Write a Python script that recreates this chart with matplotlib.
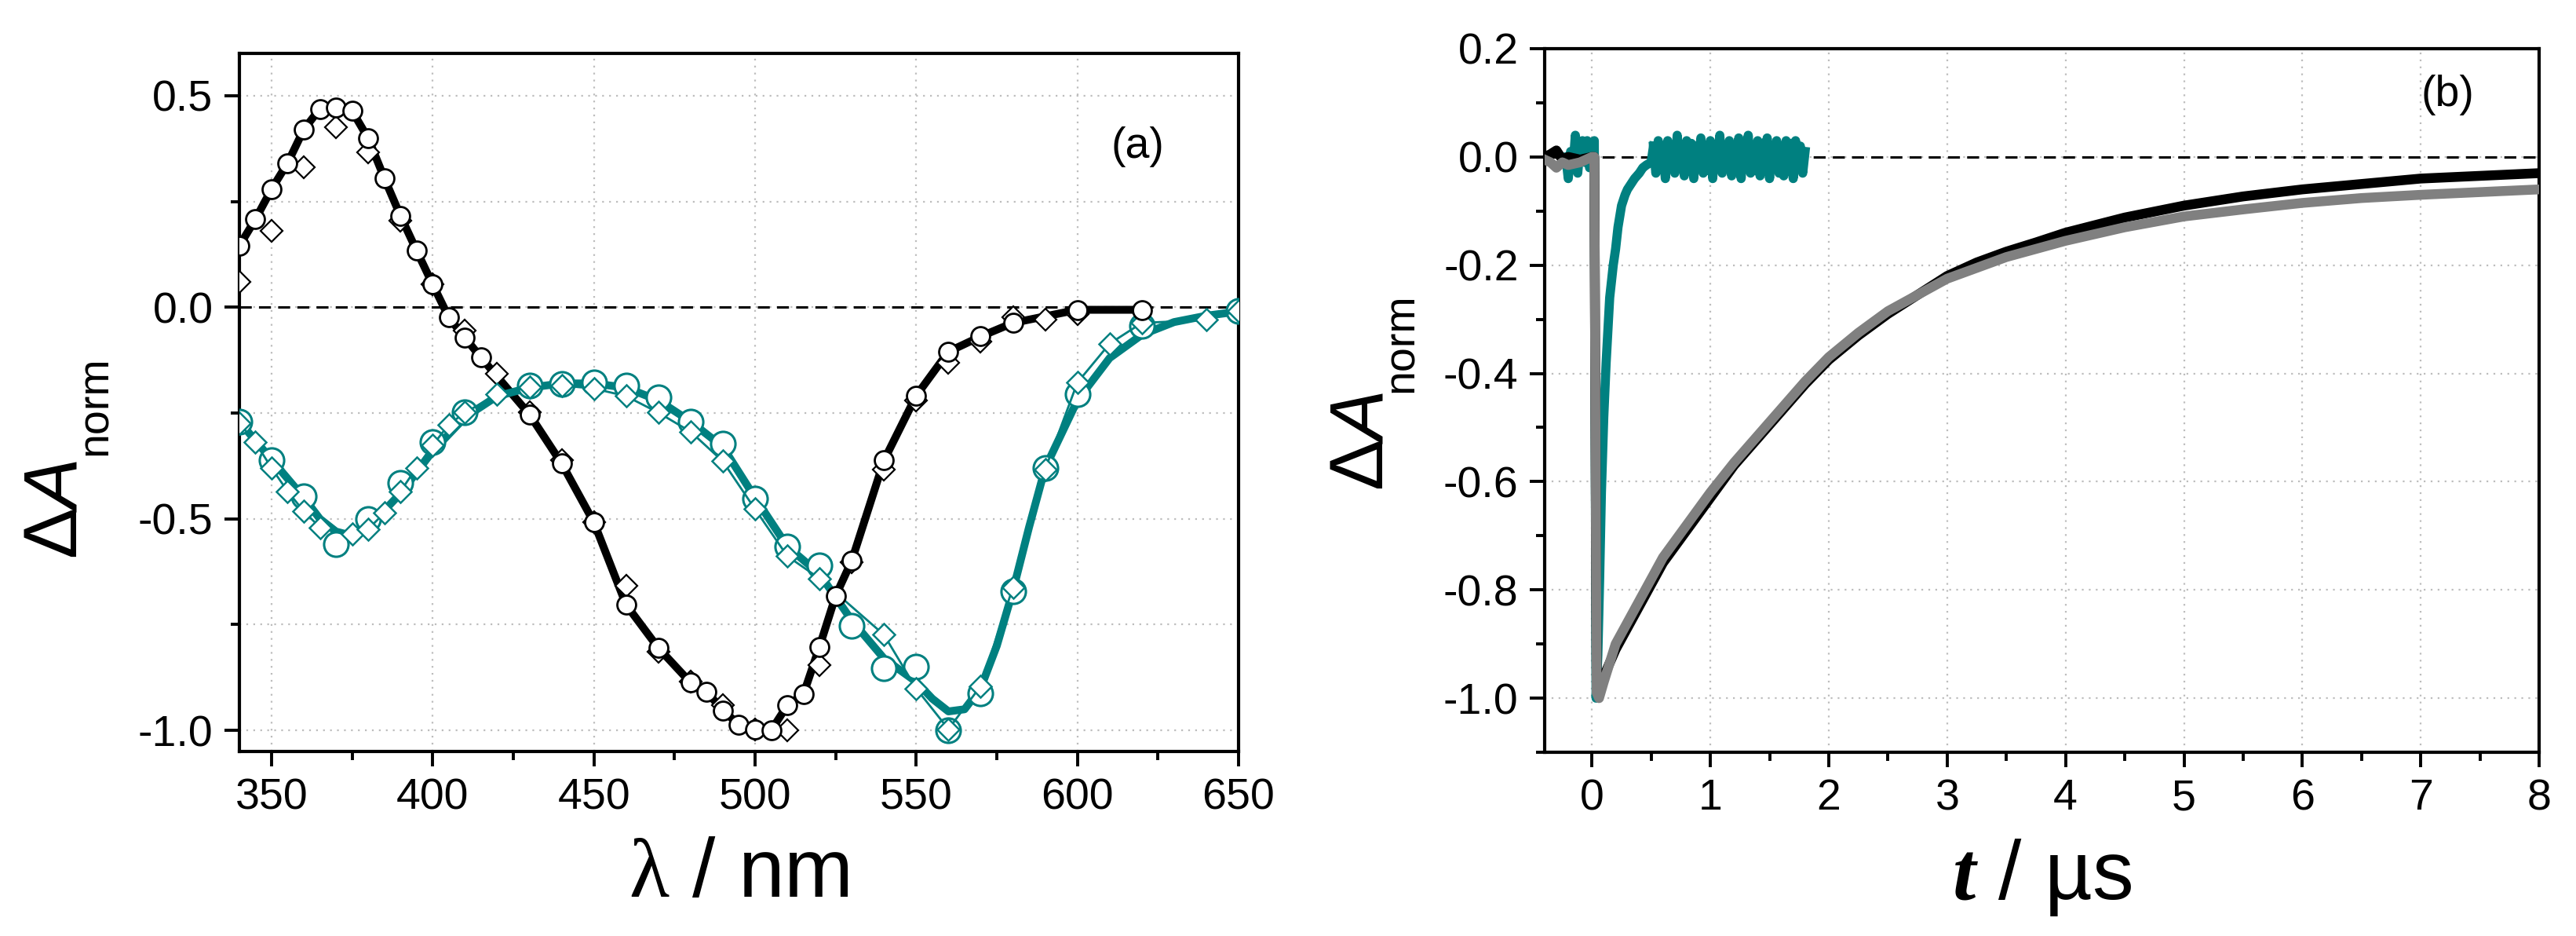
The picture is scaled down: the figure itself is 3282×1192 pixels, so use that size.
import numpy as np
import matplotlib
matplotlib.use("Agg")
import matplotlib.pyplot as plt
from matplotlib.ticker import MultipleLocator, FormatStrFormatter

plt.rcParams['font.family'] = ['Liberation Sans', 'DejaVu Sans']
plt.rcParams['axes.unicode_minus'] = False
plt.rcParams['mathtext.fontset'] = 'custom'
plt.rcParams['mathtext.rm'] = 'Liberation Sans'
plt.rcParams['mathtext.it'] = 'Liberation Sans:italic'
plt.rcParams['mathtext.bf'] = 'Liberation Sans:bold'
plt.rcParams['mathtext.bfit'] = 'Liberation Serif:italic:bold'
plt.rcParams['mathtext.cal'] = 'Liberation Serif'

TEAL = '#008080'
GRAY = '#808080'

# ---------------- Panel (a) data ----------------
wl_black_circ = [340, 345, 350, 355, 360, 365, 370, 375, 380, 385, 390, 395, 400, 405, 410, 415,
                 430, 440, 450, 460, 470, 480, 485, 490, 495, 500, 505, 510, 515, 520, 525, 530,
                 540, 550, 560, 570, 580, 600, 620]
dA_black_circ = [0.145, 0.208, 0.279, 0.341, 0.420, 0.469, 0.471, 0.464, 0.399, 0.305, 0.216, 0.134,
                 0.054, -0.024, -0.072, -0.119,
                 -0.253, -0.369, -0.508, -0.703, -0.805, -0.887, -0.908, -0.953, -0.986, -0.997,
                 -1.0, -0.941, -0.915, -0.802, -0.682, -0.599,
                 -0.362, -0.209, -0.105, -0.069, -0.037, -0.006, -0.006]

wl_black_dia = [340, 350, 360, 370, 380, 390, 400, 410, 420, 430, 440, 450, 460, 470, 480, 490,
                500, 510, 520, 530, 540, 550, 560, 570, 580, 590, 600]
dA_black_dia = [0.060, 0.180, 0.331, 0.426, 0.366, 0.205, 0.055, -0.055, -0.157, -0.249, -0.362,
                -0.508, -0.658, -0.814, -0.884, -0.941, -0.997, -1.0, -0.845, -0.602, -0.383,
                -0.220, -0.131, -0.082, -0.023, -0.030, -0.016]

wl_teal_circ = [340, 350, 360, 370, 380, 390, 400, 410, 430, 440, 450, 460, 470, 480, 490, 500,
                510, 520, 530, 540, 550, 560, 570, 580, 590, 600, 620, 650]
dA_teal_circ = [-0.271, -0.362, -0.446, -0.559, -0.500, -0.415, -0.319, -0.249, -0.185, -0.181,
                -0.178, -0.185, -0.213, -0.271, -0.322, -0.453, -0.566, -0.609, -0.753, -0.853,
                -0.849, -1.0, -0.912, -0.672, -0.379, -0.206, -0.044, -0.008]

wl_teal_dia = [340, 345, 350, 355, 360, 365, 375, 380, 385, 390, 395, 400, 405, 410, 420, 430,
               440, 450, 460, 470, 480, 490, 500, 510, 520, 540, 550, 560, 570, 580, 590, 600,
               610, 620, 640, 650]
dA_teal_dia = [-0.274, -0.319, -0.380, -0.435, -0.482, -0.520, -0.535, -0.524, -0.486, -0.435,
               -0.379, -0.326, -0.277, -0.249, -0.206, -0.189, -0.185, -0.192, -0.210, -0.249,
               -0.294, -0.364, -0.477, -0.588, -0.641, -0.774, -0.901, -0.997, -0.895, -0.662,
               -0.383, -0.178, -0.086, -0.037, -0.030, -0.008]

wl_teal_fit = [340, 350, 360, 365, 370, 375, 380, 390, 400, 410, 420, 430, 440, 450, 460, 470,
               480, 490, 500, 510, 520, 530, 540, 550, 555, 560, 565, 570, 575, 580, 585, 590,
               600, 610, 620, 630, 640, 650]
dA_teal_fit = [-0.27, -0.36, -0.45, -0.50, -0.53, -0.54, -0.52, -0.44, -0.34, -0.26, -0.21, -0.19,
               -0.18, -0.18, -0.19, -0.22, -0.27, -0.33, -0.45, -0.565, -0.63, -0.74, -0.83,
               -0.885, -0.925, -0.955, -0.95, -0.90, -0.80, -0.67, -0.52, -0.38, -0.22, -0.12,
               -0.065, -0.035, -0.02, -0.01]

# ---------------- Panel (b) data ----------------
t_black = [-0.4, -0.35, -0.3, -0.25, -0.2, -0.1, 0.0, 0.02, 0.04, 0.06, 0.1, 0.2, 0.3, 0.4, 0.5,
           0.6, 0.8, 1.0, 1.2, 1.4, 1.6, 1.8, 2.0, 2.25, 2.5, 2.75, 3.0, 3.25, 3.5, 3.75, 4.0,
           4.5, 5.0, 5.5, 6.0, 6.5, 7.0, 7.5, 8.0]
dA_black = [0.0, 0.005, 0.012, -0.005, 0.0, -0.005, 0.0, 0.0, -0.97, -0.975, -0.96, -0.91, -0.87,
            -0.83, -0.79, -0.75, -0.69, -0.63, -0.57, -0.52, -0.47, -0.42, -0.375, -0.33, -0.29,
            -0.255, -0.22, -0.195, -0.175, -0.158, -0.14, -0.112, -0.09, -0.073, -0.06, -0.05,
            -0.04, -0.035, -0.03]

t_gray = [-0.4, -0.35, -0.3, -0.25, -0.2, -0.1, 0.0, 0.02, 0.04, 0.06, 0.1, 0.2, 0.3, 0.4, 0.5,
          0.6, 0.8, 1.0, 1.2, 1.4, 1.6, 1.8, 2.0, 2.25, 2.5, 2.75, 3.0, 3.25, 3.5, 3.75, 4.0,
          4.5, 5.0, 5.5, 6.0, 6.5, 7.0, 7.5, 8.0]
dA_gray = [-0.005, -0.01, -0.02, -0.01, -0.015, -0.01, 0.0, 0.0, -0.99, -1.0, -0.97, -0.90, -0.86,
           -0.82, -0.78, -0.74, -0.68, -0.62, -0.565, -0.515, -0.465, -0.415, -0.37, -0.325,
           -0.285, -0.255, -0.225, -0.205, -0.185, -0.17, -0.155, -0.13, -0.11, -0.097, -0.085,
           -0.076, -0.07, -0.065, -0.06]

t_teal_pre = [-0.22, -0.20, -0.18, -0.16, -0.14, -0.12, -0.10, -0.08, -0.06, -0.04, -0.02, 0.00,
              0.02, 0.035, 0.05, 0.065, 0.08, 0.10, 0.12, 0.15, 0.18, 0.20, 0.22, 0.25, 0.28,
              0.30, 0.33, 0.36, 0.40, 0.43, 0.46, 0.50]
dA_teal_pre = [0.0, -0.04, 0.01, -0.02, 0.04, -0.03, 0.02, 0.03, -0.01, 0.03, -0.02, 0.02, 0.03,
               -1.0, -0.92, -0.78, -0.62, -0.48, -0.38, -0.26, -0.20, -0.17, -0.13, -0.09, -0.07,
               -0.06, -0.05, -0.04, -0.03, -0.02, -0.015, -0.01]
dA_teal_plateau = [0.02, -0.03, 0.03, -0.02, 0.01, -0.04, 0.03, -0.01, 0.02, -0.03,
                   0.04, -0.02, 0.01, -0.035, 0.03, -0.02, 0.025, -0.04, 0.02, -0.01,
                   0.035, -0.03, 0.01, -0.025, 0.03, -0.04, 0.02, -0.015, 0.04, -0.03,
                   0.02, -0.02, 0.03, -0.035, 0.015, -0.01, 0.035, -0.04, 0.02, -0.02,
                   0.04, -0.03, 0.01, -0.025, 0.03, -0.035, 0.025, -0.015, 0.035, -0.04,
                   0.02, -0.02, 0.03, -0.03, 0.015, -0.035, 0.03, -0.01, 0.025, -0.04,
                   0.03, -0.02, 0.02, -0.03, 0.01]
t_teal_plateau = np.linspace(0.52, 1.80, len(dA_teal_plateau))

xticks_a = [350, 400, 450, 500, 550, 600, 650]
yticks_a = [-1.0, -0.5, 0.0, 0.5]
xticks_b = [0, 1, 2, 3, 4, 5, 6, 7, 8]
yticks_b = [-1.0, -0.8, -0.6, -0.4, -0.2, 0.0, 0.2]

# ---------------- Figure ----------------
W, H = 3282, 1192
fig = plt.figure(figsize=(W / 200, H / 200), dpi=200)
axA = fig.add_axes([0.0929, 0.197, 0.3879, 0.746])
axB = fig.add_axes([0.5996, 0.1963, 0.3861, 0.7517])

TICK_FS = 20


def style_axes(ax):
    for s in ax.spines.values():
        s.set_linewidth(1.5)
    ax.tick_params(which='major', direction='out', length=7, width=1.4, labelsize=TICK_FS, pad=5,
                   top=False, right=False)
    ax.tick_params(which='minor', direction='out', length=4, width=1.4, top=False, right=False)
    ax.set_axisbelow(True)


def ylabel_at(x_main, y_main, x_sub, y_sub):
    # x_*: baseline position (px from left), y_*: start of text (px from top)
    fig.text(x_main / W, 1 - y_main / H, r'$\mathrm{Δ}\mathit{A}$', fontsize=35, rotation=90,
             rotation_mode='anchor', ha='left', va='baseline')
    fig.text(x_sub / W, 1 - y_sub / H, 'norm', fontsize=20, rotation=90,
             rotation_mode='anchor', ha='left', va='baseline')


# Panel (a)
style_axes(axA)
axA.set_xlim(340, 650)
axA.set_ylim(-1.05, 0.6)
axA.set_xticks(xticks_a)
axA.set_yticks(yticks_a)
axA.xaxis.set_minor_locator(MultipleLocator(25))
axA.yaxis.set_minor_locator(MultipleLocator(0.25))
axA.yaxis.set_major_formatter(FormatStrFormatter('%.1f'))
axA.grid(True, which='major', axis='x', linestyle=(0, (1, 3)), color='#bdbdbd', linewidth=0.8)
axA.grid(True, which='both', axis='y', linestyle=(0, (1, 3)), color='#bdbdbd', linewidth=0.8)
axA.axhline(0, color='black', linestyle=(0, (5, 3)), linewidth=1.1, zorder=1.5)

axA.plot(wl_black_circ, dA_black_circ, color='black', lw=3.6, zorder=2, solid_capstyle='round')
axA.plot(wl_black_dia, dA_black_dia, linestyle='none', marker='D', ms=7.2,
         mfc='white', mec='black', mew=0.8, zorder=3)
axA.plot(wl_black_circ, dA_black_circ, linestyle='none', marker='o', ms=8.6,
         mfc='white', mec='black', mew=1.0, zorder=4)

axA.plot(wl_teal_fit, dA_teal_fit, color=TEAL, lw=3.6, zorder=2, solid_capstyle='round')
axA.plot(wl_teal_circ, dA_teal_circ, linestyle='none', marker='o', ms=11.2,
         mfc='white', mec=TEAL, mew=1.1, zorder=3)
axA.plot(wl_teal_dia, dA_teal_dia, color=TEAL, lw=1.0, marker='D', ms=7.2,
         mfc='white', mec=TEAL, mew=0.9, zorder=3.5)

axA.text(0.899, 0.866, '(a)', transform=axA.transAxes, fontsize=20, ha='center', va='center')
axA.set_xlabel(r'$\mathcal{λ}$ / nm', fontsize=38, labelpad=8)
ylabel_at(98, 712, 136, 580)

# Panel (b)
style_axes(axB)
axB.set_xlim(-0.4, 8)
axB.set_ylim(-1.1, 0.2)
axB.set_xticks(xticks_b)
axB.set_yticks(yticks_b)
axB.xaxis.set_minor_locator(MultipleLocator(0.5))
axB.yaxis.set_minor_locator(MultipleLocator(0.1))
axB.yaxis.set_major_formatter(FormatStrFormatter('%.1f'))
axB.grid(True, which='major', linestyle=(0, (1, 3)), color='#bdbdbd', linewidth=0.8)
axB.axhline(0, color='black', linestyle=(0, (5, 3)), linewidth=1.1, zorder=1.5)

axB.plot(t_teal_pre, dA_teal_pre, color=TEAL, lw=4.2, zorder=2)
axB.plot(t_teal_plateau, dA_teal_plateau, color=TEAL, lw=4.2, zorder=2)
axB.plot([t_teal_pre[-1], t_teal_plateau[0]], [dA_teal_pre[-1], dA_teal_plateau[0]],
         color=TEAL, lw=4.2, zorder=2)
axB.plot(t_black, dA_black, color='black', lw=4.5, zorder=3)
axB.plot(t_gray, dA_gray, color=GRAY, lw=4.5, zorder=4)

axB.text(0.908, 0.934, '(b)', transform=axB.transAxes, fontsize=20, ha='center', va='center')
axB.set_xlabel(r'$\mathbfit{t}$ / µs', fontsize=38, labelpad=8)
ylabel_at(1762, 625, 1800, 500)

fig.savefig('out.png', dpi=200)
